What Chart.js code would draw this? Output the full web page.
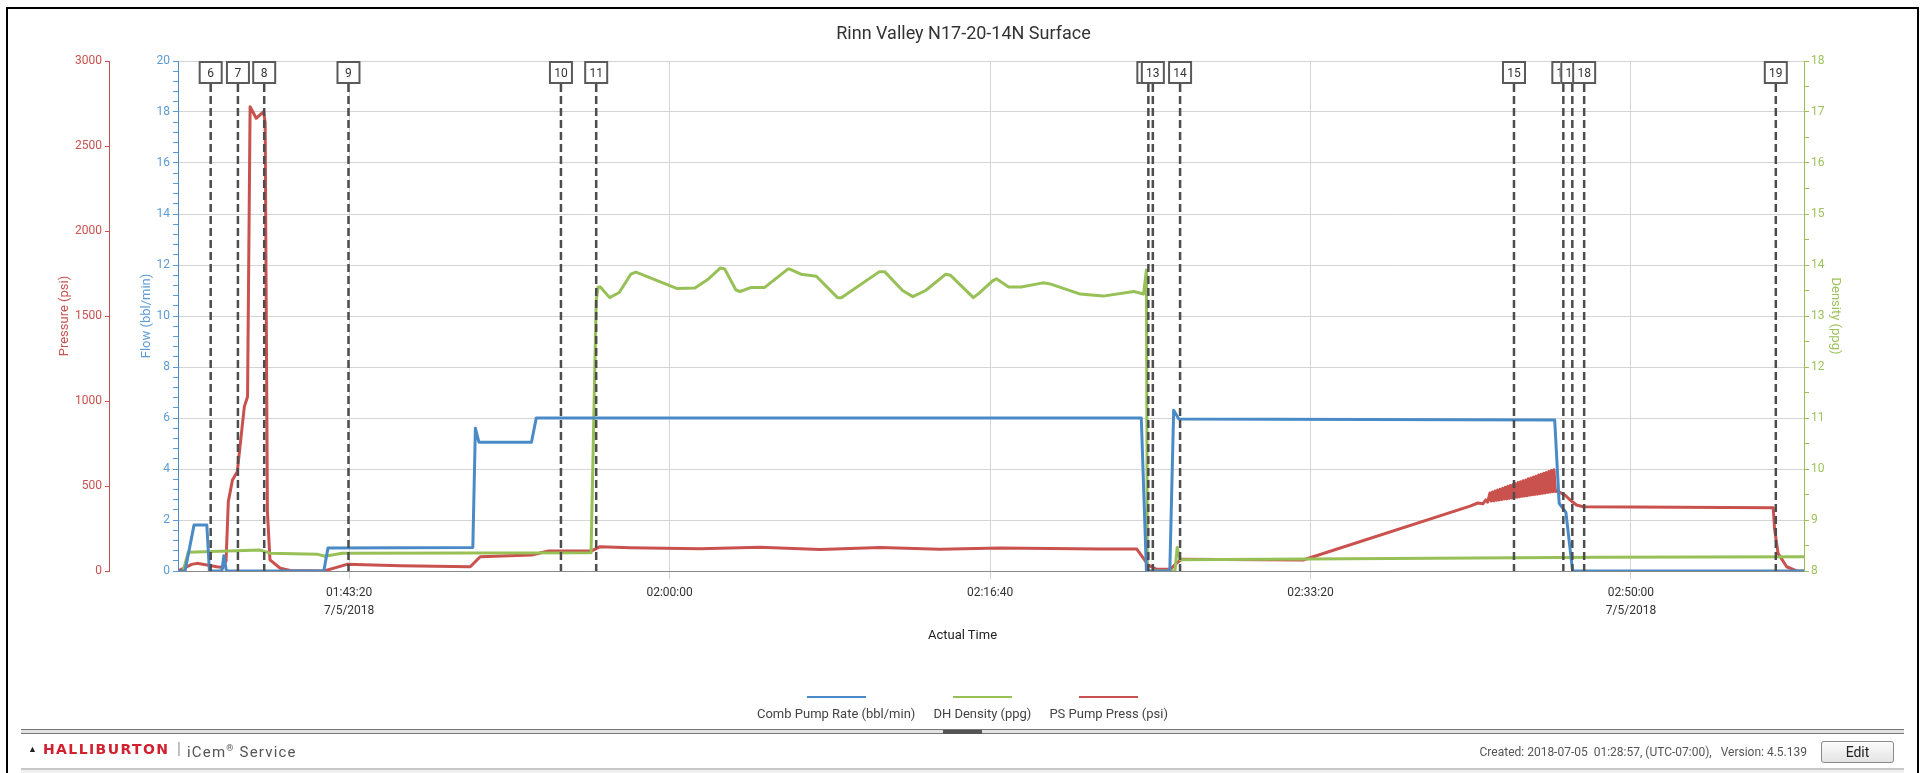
<!DOCTYPE html>
<html>
<head>
<meta charset="utf-8">
<title>Rinn Valley N17-20-14N Surface</title>
<script src="https://cdn.jsdelivr.net/npm/chart.js@4.4.1/dist/chart.umd.min.js"></script>
<style>
  html, body { margin: 0; padding: 0; background: #fff; }
  body { width: 1927px; height: 773px; position: relative; overflow: hidden; font-family: Roboto, "Noto Sans", sans-serif; }
  #frame { position: absolute; left: 6px; top: 7px; width: 1913px; height: 800px; border: 2px solid #000; box-sizing: border-box; }
  #chart { position: absolute; left: 0; top: 0; }
  .title { position: absolute; top: 22px; left: 0; width: 1927px; text-align: center; font-size: 18px; line-height: 22px; color: #333; }
  .xtitle { position: absolute; top: 627px; left: 0; width: 1925px; text-align: center; font-size: 13px; line-height: 16px; color: #222; }
  #legend { position: absolute; top: 696px; left: 0; width: 1925px; display: flex; justify-content: center; gap: 18px; }
  #legend .item { display: flex; flex-direction: column; align-items: center; }
  #legend .swatch { width: 59px; height: 2px; margin-bottom: 8px; }
  #legend .name { font-size: 13px; line-height: 16px; color: #444; white-space: nowrap; }
  .sep { position: absolute; left: 21px; top: 729px; width: 1883px; height: 5px; box-sizing: border-box; border-top: 1px solid #777; border-bottom: 1px solid #777; background: #e2e2e2; }
  .grip { position: absolute; left: 943px; top: 730px; width: 39px; height: 4px; background: #555; }
  .foot { position: absolute; top: 739px; line-height: 20px; white-space: pre; }
  .tri { left: 28px; font-size: 9px; color: #222; }
  .brand { left: 43px; font-size: 14px; font-weight: bold; letter-spacing: 1.4px; color: #d1202f; font-family: "DejaVu Sans", sans-serif; }
  .bar { left: 177px; font-size: 16px; color: #999; }
  .svc { left: 187px; top: 738px; font-size: 15px; letter-spacing: 1.2px; color: #555; }
  .svc sup { font-size: 9px; }
  .created { top: 742px; right: 120px; font-size: 12px; color: #555; }
  .edit { position: absolute; left: 1821px; top: 741px; width: 73px; height: 22px; box-sizing: border-box; border: 1px solid #8a8a8a; border-radius: 3px; background: linear-gradient(#fbfbfb, #e4e4e4); font-size: 14px; line-height: 20px; text-align: center; color: #222; }
  .bottomline { position: absolute; left: 21px; top: 768px; width: 1883px; height: 2px; background: #c8c8c8; }
  .bottomfill { position: absolute; left: 21px; top: 770px; width: 1883px; height: 3px; background: #f0f0f0; }
</style>
</head>
<body>
<canvas id="chart" width="1927" height="773"></canvas>
<div id="frame"></div>
<div class="title">Rinn Valley N17-20-14N Surface</div>
<div class="xtitle">Actual Time</div>
<div id="legend"></div>
<div class="sep"></div>
<div class="grip"></div>
<div class="foot tri">▲</div>
<div class="foot brand">HALLIBURTON</div>
<div class="foot bar">|</div>
<div class="foot svc">iCem<sup>®</sup> Service</div>
<div class="foot created">Created: 2018-07-05  01:28:57, (UTC-07:00),   Version: 4.5.139</div>
<div class="edit">Edit</div>
<div class="bottomline"></div>
<div class="bottomfill"></div>
<script>
const FONT = 'Roboto, "Noto Sans", sans-serif';
const BLUE = '#4a8bc7';
const GREEN = '#97c057';
const RED = '#c9514e';

const timeMin = '01:34:26';
const timeMax = '02:59:00';
const xTickTimes = ['01:43:20', '02:00:00', '02:16:40', '02:33:20', '02:50:00'];
const xTickDates = ['7/5/2018', '', '', '', '7/5/2018'];

const seriesNames = ['Comb Pump Rate (bbl/min)', 'DH Density (ppg)', 'PS Pump Press (psi)'];
const seriesColors = [BLUE, GREEN, RED];

const flowTimes = ['01:34:26', '01:34:48', '01:35:16', '01:35:56', '01:36:04', '01:36:43', '01:36:49', '01:36:57',
    '01:42:01', '01:42:14', '01:49:46', '01:49:54', '01:50:05', '01:52:49', '01:53:04', '02:24:32', '02:24:48',
    '02:26:01', '02:26:13', '02:26:29', '02:46:02', '02:46:16', '02:46:37', '02:46:58', '02:58:59'];
const flowValues = [0, 0, 1.8, 1.8, 0, 0, 0.6, 0,
    0, 0.9, 0.92, 5.6, 5.05, 5.05, 6.0, 6.0, 0,
    0, 6.3, 5.96, 5.92, 2.65, 2.3, 0, 0];

const densityTimes = ['01:34:42', '01:34:58', '01:38:42', '01:39:14', '01:41:40', '01:42:05', '01:42:58', '01:55:55',
    '01:56:11', '01:56:17', '01:56:24', '01:56:53', '01:57:23', '01:57:59', '01:58:15', '02:00:22', '02:01:19',
    '02:01:58', '02:02:38', '02:02:52', '02:03:27', '02:03:40', '02:04:15', '02:04:57', '02:06:09', '02:06:15',
    '02:06:50', '02:07:38', '02:08:44', '02:08:56', '02:10:55', '02:11:11', '02:12:07', '02:12:39', '02:13:19',
    '02:14:22', '02:14:36', '02:15:48', '02:16:06', '02:16:48', '02:17:00', '02:17:38', '02:18:17', '02:19:25',
    '02:19:47', '02:21:22', '02:22:32', '02:24:09', '02:24:39', '02:24:48', '02:24:51', '02:26:17', '02:26:24',
    '02:26:33', '02:48:23', '02:59:00'];
const densityValues = [8.0, 8.37, 8.41, 8.35, 8.33, 8.29, 8.35, 8.36,
    13.3, 13.57, 13.57, 13.36, 13.46, 13.82, 13.86, 13.54, 13.55,
    13.71, 13.94, 13.92, 13.51, 13.48, 13.56, 13.56, 13.92, 13.92,
    13.82, 13.78, 13.36, 13.36, 13.87, 13.87, 13.5, 13.38, 13.5,
    13.82, 13.8, 13.36, 13.45, 13.69, 13.73, 13.57, 13.57, 13.65,
    13.63, 13.43, 13.39, 13.48, 13.43, 13.9, 8.0, 8.0, 8.46,
    8.22, 8.27, 8.28];

const pressTimes = ['01:34:26', '01:35:09', '01:35:25', '01:36:27', '01:36:46', '01:36:56', '01:37:03', '01:37:16',
    '01:37:31', '01:37:53', '01:38:03', '01:38:11', '01:38:30', '01:38:53', '01:38:58', '01:39:05', '01:39:13',
    '01:39:45', '01:40:16', '01:42:02', '01:43:13', '01:45:59', '01:49:38', '01:50:09', '01:52:50', '01:53:42',
    '01:55:57', '01:56:23', '01:57:57', '02:01:35', '02:04:42', '02:07:50', '02:10:57', '02:14:04', '02:17:11',
    '02:22:23', '02:24:18', '02:24:54', '02:25:20', '02:26:02', '02:26:24', '02:26:38', '02:32:57', '02:41:38',
    '02:42:02', '02:42:18', '02:42:27', '02:42:33',
    '02:42:40', '02:42:44', '02:42:48', '02:42:52', '02:42:56', '02:43:00', '02:43:04', '02:43:08', '02:43:12',
    '02:43:16', '02:43:20', '02:43:24', '02:43:28', '02:43:32', '02:43:36', '02:43:40', '02:43:44', '02:43:48',
    '02:43:52', '02:43:56', '02:44:00', '02:44:04', '02:44:08', '02:44:12', '02:44:16', '02:44:20', '02:44:24',
    '02:44:28', '02:44:32', '02:44:36', '02:44:40', '02:44:44', '02:44:48', '02:44:52', '02:44:56', '02:45:00',
    '02:45:04', '02:45:08', '02:45:12', '02:45:16', '02:45:20', '02:45:24', '02:45:28', '02:45:32', '02:45:36',
    '02:45:40', '02:45:44', '02:45:48', '02:45:52', '02:45:56', '02:46:00', '02:46:04',
    '02:46:10', '02:46:34', '02:46:50', '02:47:10', '02:47:31', '02:57:24', '02:57:28', '02:57:39', '02:58:06',
    '02:58:37', '02:59:00'];
const pressValues = [0, 39, 45, 25, 20, 60, 408, 535,
    584, 967, 1025, 2731, 2663, 2702, 2640, 350, 65,
    16, 3, 0, 39, 31, 25, 84, 94, 118,
    118, 143, 137, 131, 140, 126, 138, 128, 136,
    129, 129, 35, 10, 10, 49, 69, 65, 382,
    400, 395, 418, 405,
    459, 411, 465, 413, 470, 416, 476, 418, 481,
    420, 487, 423, 492, 425, 498, 427, 503, 430,
    509, 432, 514, 434, 520, 436, 525, 439, 531,
    441, 536, 443, 542, 446, 547, 448, 553, 450,
    558, 452, 564, 455, 569, 457, 575, 459, 580,
    462, 586, 464, 591, 466, 596, 468,
    470, 447, 418, 388, 378, 372, 250, 104, 25,
    0, 0];

const eventLabels = ['6', '7', '8', '9', '10', '11', '12', '13', '14', '15', '16', '17', '18', '19'];
const eventTimes = ['01:36:08', '01:37:33', '01:38:55', '01:43:18', '01:54:21', '01:56:11', '02:24:54',
    '02:25:08', '02:26:33', '02:43:55', '02:46:29', '02:46:57', '02:47:34', '02:57:32'];

function toSec(s) {
    const p = s.split(':').map(Number);
    return p[0] * 3600 + p[1] * 60 + p[2];
}

function points(times, values) {
    return times.map((t, i) => ({ x: toSec(t), y: values[i] }));
}

function isMultiple(v, step) {
    return Math.abs(v / step - Math.round(v / step)) < 1e-6;
}

// legend: coloured line above the name
const legend = document.getElementById('legend');
seriesNames.forEach((name, i) => {
    const item = document.createElement('div');
    item.className = 'item';
    item.innerHTML = '<div class="swatch" style="background:' + seriesColors[i] + '"></div><div class="name">' + name + '</div>';
    legend.appendChild(item);
});

// vertical dashed event lines with numbered boxes at the top
const eventPlugin = {
    id: 'events',
    afterDatasetsDraw(chart) {
        const { ctx, chartArea } = chart;
        const x = chart.scales.x;
        const boxW = 24, boxH = 23;
        ctx.save();
        ctx.strokeStyle = '#4d4d4d';
        ctx.lineWidth = 2.5;
        ctx.setLineDash([8, 4]);
        eventTimes.forEach(t => {
            const px = x.getPixelForValue(toSec(t));
            ctx.beginPath();
            ctx.moveTo(px, chartArea.top + boxH);
            ctx.lineTo(px, chartArea.bottom);
            ctx.stroke();
        });
        ctx.setLineDash([]);
        ctx.font = '12px ' + FONT;
        ctx.textAlign = 'center';
        ctx.textBaseline = 'middle';
        eventTimes.forEach((t, i) => {
            const px = x.getPixelForValue(toSec(t));
            ctx.fillStyle = '#fff';
            ctx.fillRect(px - boxW / 2, chartArea.top, boxW, boxH);
            ctx.lineWidth = 2;
            ctx.strokeStyle = '#5a5a5a';
            ctx.strokeRect(px - boxW / 2 + 1, chartArea.top + 1, boxW - 2, boxH - 2);
            ctx.fillStyle = '#333';
            ctx.fillText(eventLabels[i], px, chartArea.top + boxH / 2 + 1);
        });
        ctx.restore();
    }
};

const lineStyle = { borderWidth: 3, pointRadius: 0, tension: 0, borderJoinStyle: 'round', borderCapStyle: 'round', fill: false };

new Chart(document.getElementById('chart'), {
    type: 'line',
    data: {
        datasets: [
            Object.assign({ label: seriesNames[0], data: points(flowTimes, flowValues), borderColor: BLUE, yAxisID: 'yFlow' }, lineStyle),
            Object.assign({ label: seriesNames[1], data: points(densityTimes, densityValues), borderColor: GREEN, yAxisID: 'yDens' }, lineStyle),
            Object.assign({ label: seriesNames[2], data: points(pressTimes, pressValues), borderColor: RED, yAxisID: 'yPress' }, lineStyle)
        ]
    },
    options: {
        responsive: false,
        animation: false,
        layout: { padding: { left: 20, right: 20, top: 61, bottom: 122 } },
        plugins: { legend: { display: false }, title: { display: false }, tooltip: { enabled: false } },
        scales: {
            x: {
                type: 'linear',
                position: 'bottom',
                min: toSec(timeMin),
                max: toSec(timeMax),
                afterBuildTicks: s => { s.ticks = xTickTimes.map(t => ({ value: toSec(t) })); },
                afterFit: s => { s.height = 80; },
                ticks: {
                    autoSkip: false,
                    maxRotation: 0,
                    padding: 5,
                    color: '#333',
                    font: { family: FONT, size: 12, lineHeight: 1.5 },
                    callback: v => {
                        const i = xTickTimes.findIndex(t => toSec(t) === v);
                        if (i < 0) return '';
                        return xTickDates[i] ? [xTickTimes[i], xTickDates[i]] : xTickTimes[i];
                    }
                },
                grid: { color: '#d4d4d4', tickLength: 8, tickColor: '#cfcfcf' },
                border: { color: '#8a8a8a' }
            },
            yPress: {
                position: 'left',
                weight: 2,
                min: 0,
                max: 3000,
                afterFit: s => { s.width = 89; },
                ticks: { stepSize: 500, padding: 3, color: RED, font: { family: FONT, size: 12 }, callback: v => String(v) },
                grid: { drawOnChartArea: false, tickLength: 4, tickColor: RED },
                border: { color: RED },
                title: { display: true, text: 'Pressure (psi)', color: RED, font: { family: FONT, size: 13 }, padding: { top: 37 } }
            },
            yFlow: {
                position: 'left',
                weight: 1,
                min: 0,
                max: 20,
                afterFit: s => { s.width = 69; },
                ticks: {
                    stepSize: 0.4,
                    autoSkip: false,
                    padding: 3,
                    color: '#5b9bd5',
                    font: { family: FONT, size: 12 },
                    callback: v => isMultiple(v, 2) ? String(Math.round(v)) : ''
                },
                grid: {
                    color: c => isMultiple(c.tick.value, 2) ? '#d4d4d4' : 'rgba(0,0,0,0)',
                    tickLength: 5,
                    tickColor: '#5b9bd5'
                },
                border: { color: BLUE },
                title: { display: true, text: 'Flow (bbl/min)', color: '#5b9bd5', font: { family: FONT, size: 13 }, padding: { top: 30 } }
            },
            yDens: {
                position: 'right',
                min: 8,
                max: 18,
                afterFit: s => { s.width = 103; },
                ticks: {
                    stepSize: 0.5,
                    autoSkip: false,
                    padding: 2,
                    color: '#9cc35c',
                    font: { family: FONT, size: 12 },
                    callback: v => isMultiple(v, 1) ? String(Math.round(v)) : ''
                },
                grid: { drawOnChartArea: false, tickLength: 5, tickColor: GREEN },
                border: { color: GREEN },
                title: { display: true, text: 'Density (ppg)', color: '#9cc35c', font: { family: FONT, size: 13 }, padding: { top: 64 } }
            }
        }
    },
    plugins: [eventPlugin]
});
</script>
</body>
</html>
